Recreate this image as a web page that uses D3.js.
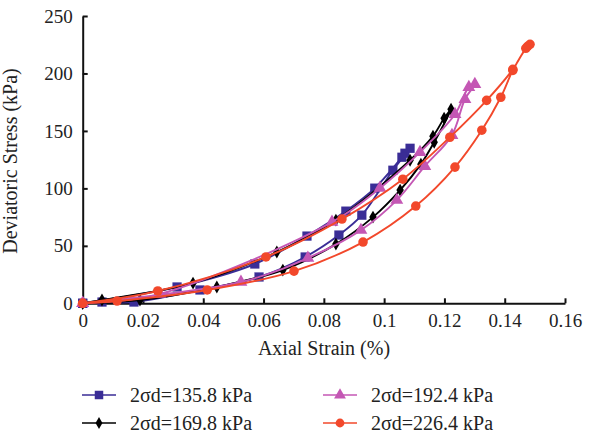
<!DOCTYPE html>
<html><head><meta charset="utf-8">
<script src="https://cdn.jsdelivr.net/npm/d3@7"></script>
<style>body{margin:0;background:#fff}svg{display:block}</style>
</head><body><svg id="c" width="590" height="436"></svg>
<script>
const xTicks = [0,0.02,0.04,0.06,0.08,0.1,0.12,0.14,0.16];
const xTickLabels = ["0","0.02","0.04","0.06","0.08","0.1","0.12","0.14","0.16"];
const yTicks = [0,50,100,150,200,250];
const seriesNames = ["2σd=135.8 kPa","2σd=169.8 kPa","2σd=192.4 kPa","2σd=226.4 kPa"];

// loops: loading branch then unloading branch, ordered along the path
const strain135 = [0,0.0064,0.017,0.0389,0.0585,0.0738,0.085,0.0926,0.1029,0.1086,0.1069,0.1059,0.0969,0.0873,0.0744,0.0571,0.0313,0];
const stress135 = [0,1.1,1.1,11.6,22.9,40.3,59.4,76.7,115.8,134.9,130.6,127.1,100.2,80.2,58.5,34.2,14.2,0];
const strain169 = [0,0.019,0.0445,0.0664,0.084,0.0963,0.1053,0.1122,0.1166,0.1222,0.1199,0.1162,0.1086,0.084,0.0644,0.0366,0.0064,0];
const stress169 = [0,2.9,14.2,28.9,51.5,75,98.5,121.1,140.2,168.8,161,145.4,124.5,72.4,44.6,17.6,2.9,0];
const strain192 = [0,0.0525,0.0747,0.0923,0.1042,0.1135,0.1225,0.1268,0.1301,0.1281,0.1235,0.1119,0.0986,0.0827,0.0256,0];
const stress192 = [0,18.5,39.4,63.7,89.8,119.3,146.3,177.6,190.6,188,164.5,131.5,100.2,70.7,8.1,0];
const strain226 = [0,0.0114,0.0413,0.0701,0.093,0.1105,0.1235,0.1324,0.1387,0.1427,0.1476,0.1484,0.147,0.1427,0.134,0.1218,0.1062,0.086,0.0608,0.0249,0];
const stress226 = [0,2,11.6,28,53.3,84.6,118.5,150.6,179.3,202.7,223.6,225.4,221.9,203.6,176.6,144.5,108,73.3,40.3,10.7,0];

const colors = ["#3a2d96","#000000","#c457b4","#f2482b"];
const shapes = [d3.symbolSquare,d3.symbolDiamond,d3.symbolTriangle,d3.symbolCircle];
const sizes = [85,48,72,72];
const FONT = "'Liberation Serif', 'Times New Roman', serif";

const series = [
  {name:seriesNames[0], xs:strain135, ys:stress135},
  {name:seriesNames[1], xs:strain169, ys:stress169},
  {name:seriesNames[2], xs:strain192, ys:stress192},
  {name:seriesNames[3], xs:strain226, ys:stress226}
];

const svg = d3.select("#c");
const x = d3.scaleLinear().domain([0,0.16]).range([82.7,565]);
const y = d3.scaleLinear().domain([0,250]).range([303.3,16]);

const gx = svg.append("g").attr("transform","translate(0,303.3)")
  .call(d3.axisBottom(x).tickValues(xTicks).tickFormat((d,i)=>xTickLabels[i]).tickSizeInner(-5).tickSizeOuter(0).tickPadding(10));
const gy = svg.append("g").attr("transform","translate(82.7,0)")
  .call(d3.axisLeft(y).tickValues(yTicks).tickSizeInner(-5).tickSizeOuter(0).tickPadding(10));
[gx,gy].forEach(g=>{
  g.attr("font-family",null).attr("font-size",null);
  g.select(".domain").attr("stroke","#111").attr("stroke-width",2);
  g.selectAll(".tick line").attr("stroke","#111").attr("stroke-width",2);
  g.selectAll(".tick text").style("font-size","19px").style("font-family",FONT).attr("fill","#222");
});

svg.append("text").attr("x",324).attr("y",355).attr("text-anchor","middle")
  .style("font-size","20px").style("font-family",FONT).attr("fill","#222").text("Axial Strain (%)");
svg.append("text").attr("transform","translate(17,161) rotate(-90)").attr("text-anchor","middle")
  .style("font-size","20px").style("font-family",FONT).attr("fill","#222").text("Deviatoric Stress (kPa)");

const line = d3.line().x(d=>x(d[0])).y(d=>y(d[1])).curve(d3.curveCatmullRom.alpha(0.5));
series.forEach((s,i)=>{
  const pts = s.xs.map((v,j)=>[v,s.ys[j]]);
  const g = svg.append("g");
  g.append("path").attr("d",line(pts)).attr("fill","none").attr("stroke",colors[i]).attr("stroke-width",1.9);
  g.selectAll("path.m").data(pts).join("path").attr("class","m")
    .attr("transform",d=>`translate(${x(d[0])},${y(d[1])})`)
    .attr("d",d3.symbol().type(shapes[i]).size(sizes[i])).attr("fill",colors[i]);
});

const legPos = [[82,395],[82,423],[323,395],[323,423]];
series.forEach((s,i)=>{
  const [lx,ly] = legPos[i];
  const g = svg.append("g").attr("transform",`translate(${lx},${ly})`);
  g.append("line").attr("x1",0).attr("x2",34).attr("y1",0).attr("y2",0).attr("stroke",colors[i]).attr("stroke-width",1.5);
  g.append("path").attr("transform","translate(17,0)").attr("d",d3.symbol().type(shapes[i]).size(sizes[i]*0.85)).attr("fill",colors[i]);
  g.append("text").attr("x",48).attr("y",6.5).style("font-size","20px").style("font-family",FONT).attr("fill","#222").text(s.name);
});
</script></body></html>
